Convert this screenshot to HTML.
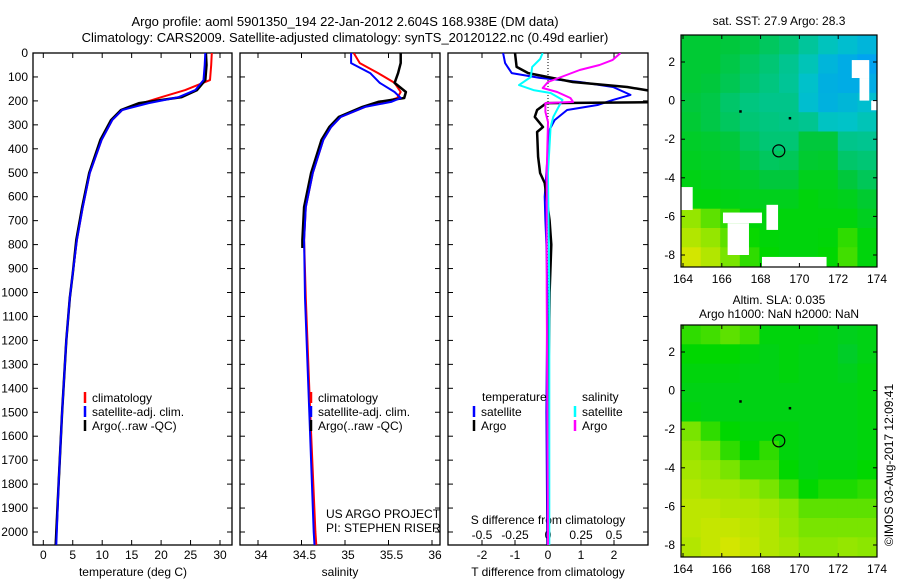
<!DOCTYPE html>
<html><head><meta charset="utf-8">
<style>
html,body{margin:0;padding:0;background:#fff;}
svg{display:block;font-family:"Liberation Sans",sans-serif;}
text{font-size:12px;fill:#000;}
</style></head>
<body>
<svg id="fig" width="900" height="580" viewBox="0 0 900 580" xmlns="http://www.w3.org/2000/svg">
<defs>
<clipPath id="c1"><rect x="33" y="53" width="199" height="492"/></clipPath>
<clipPath id="c2"><rect x="240" y="53" width="200" height="492"/></clipPath>
<clipPath id="c3"><rect x="448" y="53" width="200" height="492"/></clipPath>
<clipPath id="m1"><rect x="681" y="35" width="196" height="232"/></clipPath>
<clipPath id="m2"><rect x="681" y="325" width="196" height="232"/></clipPath>
</defs>
<text x="345" y="26" text-anchor="middle" style="font-size:13px">Argo profile: aoml 5901350_194 22-Jan-2012 2.604S 168.938E (DM data)</text>
<text x="345" y="42" text-anchor="middle" style="font-size:13px">Climatology: CARS2009. Satellite-adjusted climatology: synTS_20120122.nc (0.49d earlier)</text>
<g id="g1"></g>
<g id="g2"></g>
<g id="g3"></g>
<g id="gm1"></g>
<g id="gm2"></g>
<text transform="translate(893,465) rotate(-90)" text-anchor="middle">©IMOS 03-Aug-2017 12:09:41</text>
</svg>
<script>
// ---------- data ----------
const depthTicks = [0,100,200,300,400,500,600,700,800,900,1000,1100,1200,1300,1400,1500,1600,1700,1800,1900,2000];
const tempTicks = [0,5,10,15,20,25,30];
const salTicks = [34,34.5,35,35.5,36];
const salTickLabels = ["34","34.5","35","35.5","36"];
const dTTicks = [-2,-1,0,1,2];
const dSTickLabels = ["-0.5","-0.25","0","0.25","0.5"];
const dSTicks = [-0.5,-0.25,0,0.25,0.5];

const depthT = [0,50,113,155,184,209,238,280,363,501,643,781,919,1023,1200,1500,1800,2000,2054];
const tClim = [28.6,28.5,28.3,24.1,20.1,16.8,13.4,11.7,9.9,7.9,6.7,5.7,5.0,4.5,3.9,3.2,2.6,2.2,2.1];
const tSat  = [27.5,27.4,27.2,25.8,23.0,17.9,13.4,11.7,9.9,7.9,6.7,5.7,5.0,4.5,3.9,3.2,2.6,2.3,2.2];
const tArgo = [27.6,27.7,27.5,26.1,23.5,16.3,13.2,11.5,9.7,7.8,6.6,5.6,5.0,4.5,3.9,3.2,2.6,2.2,2.1];

const depthS = [0,42,84,125,163,188,204,225,267,309,363,501,643,781,1023,1500,2000,2054];
const sClim = [35.10,35.17,35.38,35.57,35.64,35.60,35.46,35.23,34.95,34.84,34.75,34.63,34.55,34.53,34.55,34.60,34.66,34.67];
const sSat  = [35.07,35.07,35.29,35.40,35.57,35.64,35.53,35.23,34.95,34.84,34.75,34.63,34.55,34.53,34.54,34.59,34.64,34.65];
const depthSArgo = [0,42,84,125,163,188,204,225,267,309,363,501,643,781,814];
const sArgo = [35.64,35.64,35.61,35.57,35.70,35.68,35.38,35.20,34.93,34.82,34.73,34.61,34.53,34.51,34.51];

const depthDTSat = [0,42,84,104,121,142,175,196,217,238,280,320,400,500,600,700,800,1000,1500,2054];
const dTSat = [-1.36,-1.3,-1.1,-0.25,0.97,1.97,2.5,1.97,1.5,0.58,0.2,0.05,0,-0.05,-0.1,-0.08,-0.05,-0.02,-0.05,-0.02];
const depthDTArgo = [0,58,84,121,142,167,205,209,238,267,309,330,433,501,543,700,800,1000,1500,2054];
const dTArgo = [-1.0,-0.95,-0.6,0.75,2.4,3.5,3.5,-0.05,-0.33,-0.4,-0.15,-0.33,-0.3,-0.24,-0.1,0.05,0.1,0.05,0,0];
const depthDSSat = [0,25,58,100,134,155,167,196,225,267,309,500,1000,2054];
const dSSat = [-0.04,-0.06,-0.12,-0.13,-0.22,-0.11,0.02,0.11,0.08,0.04,0.02,0,0.01,0.01];
const depthDSArgo = [0,29,50,71,92,121,146,163,188,204,209,246,288,500,1000,2054];
const dSArgo = [0.55,0.49,0.39,0.24,0.14,0,-0.04,0.07,0.17,0.19,-0.02,-0.02,0,-0.01,-0.01,0];

const mapLonTicks = [164,166,168,170,172,174];
const mapLatTicks = [2,0,-2,-4,-6,-8];
const sstGrid = [
[.52,.52,.5,.48,.44,.4,.33,.27,.22,.17],
[.52,.52,.48,.44,.4,.35,.28,.17,.12,.07],
[.52,.5,.46,.42,.38,.34,.24,.14,.12,.12],
[.5,.48,.42,.38,.36,.36,.22,.15,.18,.22],
[.52,.48,.44,.4,.38,.37,.35,.26,.25,.28],
[.55,.53,.5,.44,.4,.4,.5,.5,.36,.35],
[.57,.55,.53,.48,.44,.45,.53,.54,.42,.4],
[.6,.58,.56,.54,.5,.5,.58,.58,.5,.45],
[.62,.62,.6,.58,.58,.58,.62,.6,.58,.53],
[.82,.75,.7,.63,.62,.62,.62,.62,.62,.57],
[.88,.82,.75,.66,.63,.62,.62,.63,.7,.62],
[.95,.88,.78,.7,.65,.62,.62,.65,.72,.62]];
const slaGrid = [
[.7,.72,.75,.72,.62,.62,.62,.6,.58,.6],
[.65,.65,.65,.62,.6,.62,.6,.6,.55,.6],
[.62,.62,.62,.6,.6,.62,.6,.6,.58,.62],
[.6,.6,.6,.6,.6,.6,.6,.6,.6,.62],
[.62,.6,.6,.6,.6,.6,.6,.6,.6,.62],
[.78,.7,.65,.62,.62,.62,.6,.6,.6,.62],
[.82,.78,.7,.65,.7,.62,.6,.6,.6,.62],
[.85,.82,.78,.72,.72,.65,.6,.62,.62,.65],
[.88,.85,.85,.82,.78,.72,.65,.68,.68,.7],
[.9,.9,.88,.88,.85,.8,.75,.75,.75,.75],
[.9,.92,.92,.9,.88,.82,.78,.78,.78,.78],
[.88,.92,.95,.92,.88,.85,.8,.8,.82,.8]];
// NaN masks [lon0,lon1,latTop,latBottom]
const sstMasks = [[163.9,164.5,-4.48,-5.67],[166.06,168.07,-5.8,-6.35],[166.3,167.4,-6.35,-8.0],[168.3,168.9,-5.4,-6.7],[168.07,171.4,-8.1,-8.7],[172.7,173.6,2.1,1.17],[173.1,173.6,1.17,0.0],[173.7,174.1,0.0,-0.5]];
const argoLon = 168.938, argoLat = -2.604;
const islandLon = [166.95,169.5], islandLat = [-0.55,-0.9];

// ---------- helpers ----------
const NS = "http://www.w3.org/2000/svg";
function mk(parent, tag, attrs, txt){
  const e = document.createElementNS(NS, tag);
  for (const k in attrs) e.setAttribute(k, attrs[k]);
  if (txt !== undefined) e.textContent = txt;
  parent.appendChild(e);
  return e;
}
const Y0 = 53, Ys = 0.2395;
const yDepth = d => Y0 + d*Ys;
const xT = v => 43.3 + v*5.89;
const xS = v => 258 + (v-34)*87;
const xDT = v => 548 + v*33;
const xDS = v => 548 + v*132;

function panelFrame(g, x0, x1, ticksX, fx, name){
  const fr = mk(g,'rect',{x:x0,y:53,width:x1-x0,height:492,fill:'none',stroke:'#000','stroke-width':1.3});
  
  
  depthTicks.forEach(d=>{
    const y=yDepth(d);
    mk(g,'line',{x1:x0,x2:x0+5,y1:y,y2:y,stroke:'#000'});
    mk(g,'line',{x1:x1-5,x2:x1,y1:y,y2:y,stroke:'#000'});
  });
  ticksX.forEach(v=>{
    const x=fx(v);
    mk(g,'line',{x1:x,x2:x,y1:53,y2:58,stroke:'#000'});
    mk(g,'line',{x1:x,x2:x,y1:540,y2:545,stroke:'#000'});
  });
}
function profile(g, xs, ds, fx, color, w, clip, name){
  const pts = xs.map((v,i)=>fx(v).toFixed(1)+','+yDepth(ds[i]).toFixed(1)).join(' ');
  const p = mk(g,'polyline',{points:pts,fill:'none',stroke:color,'stroke-width':w,'clip-path':'url(#'+clip+')','stroke-linejoin':'round'});
  
  
}
function legendEntry(g, x, y, color, label, name){
  mk(g,'line',{x1:x,x2:x,y1:y-6,y2:y+5,stroke:color,'stroke-width':2.5});
  const t = mk(g,'text',{x:x+7,y:y+4},label);
  
  
}

// ---------- panel 1 ----------
const g1 = document.getElementById('g1');
panelFrame(g1,33,232,tempTicks,xT,'temperature-panel');
depthTicks.forEach(d=>{
  const t=mk(g1,'text',{x:28,y:yDepth(d)+4,'text-anchor':'end'},String(d));
  
  
});
tempTicks.forEach(v=>{
  const t=mk(g1,'text',{x:xT(v),y:559,'text-anchor':'middle'},String(v));
  
  
});
const xl1=mk(g1,'text',{x:133,y:576,'text-anchor':'middle'},'temperature (deg C)');


profile(g1,tClim,depthT,xT,'#ff0000',2,'c1','temperature-climatology-line');
profile(g1,tArgo,depthT,xT,'#000',2.5,'c1','temperature-argo-line');
profile(g1,tSat,depthT,xT,'#0000ff',2,'c1','temperature-satellite-line');
legendEntry(g1,85,398,'#ff0000','climatology','legend-climatology');
legendEntry(g1,85,412,'#0000ff','satellite-adj. clim.','legend-satellite');
legendEntry(g1,85,426,'#000','Argo(..raw -QC)','legend-argo');

// ---------- panel 2 ----------
const g2 = document.getElementById('g2');
panelFrame(g2,240,440,salTicks,xS,'salinity-panel');
salTicks.forEach((v,i)=>{
  const t=mk(g2,'text',{x:xS(v)+3,y:559,'text-anchor':'middle'},salTickLabels[i]);
  
  
});
const xl2=mk(g2,'text',{x:340,y:576,'text-anchor':'middle'},'salinity');


profile(g2,sClim,depthS,xS,'#ff0000',2,'c2','salinity-climatology-line');
profile(g2,sArgo,depthSArgo,xS,'#000',2.5,'c2','salinity-argo-line');
profile(g2,sSat,depthS,xS,'#0000ff',2,'c2','salinity-satellite-line');
legendEntry(g2,311,398,'#ff0000','climatology','legend-climatology-2');
legendEntry(g2,311,412,'#0000ff','satellite-adj. clim.','legend-satellite-2');
legendEntry(g2,311,426,'#000','Argo(..raw -QC)','legend-argo-2');
const c1=mk(g2,'text',{x:326,y:518},'US ARGO PROJECT');


const c2=mk(g2,'text',{x:326,y:532},'PI: STEPHEN RISER');



// ---------- panel 3 ----------
const g3 = document.getElementById('g3');
panelFrame(g3,448,648,dTTicks,xDT,'difference-panel');
mk(g3,'line',{x1:548,x2:548,y1:53,y2:545,stroke:'#000','stroke-dasharray':'1,2'});
dTTicks.forEach(v=>{
  const t=mk(g3,'text',{x:xDT(v),y:559,'text-anchor':'middle'},String(v));
  
  
});
dSTicks.forEach((v,i)=>{
  const t=mk(g3,'text',{x:xDS(v),y:539,'text-anchor':'middle'},dSTickLabels[i]);
  
  
});
const xl3=mk(g3,'text',{x:548,y:576,'text-anchor':'middle'},'T difference from climatology');


const xl4=mk(g3,'text',{x:548,y:524,'text-anchor':'middle'},'S difference from climatology');


profile(g3,dTSat,depthDTSat,xDT,'#0000ff',2,'c3','t-diff-satellite-line');
profile(g3,dTArgo,depthDTArgo,xDT,'#000',2.5,'c3','t-diff-argo-line');
profile(g3,dSSat,depthDSSat,xDS,'#00ffff',2,'c3','s-diff-satellite-line');
profile(g3,dSArgo,depthDSArgo,xDS,'#ff00ff',2,'c3','s-diff-argo-line');
const lt=mk(g3,'text',{x:482,y:401},'temperature');


const ls=mk(g3,'text',{x:582,y:401},'salinity');


legendEntry(g3,474,412,'#0000ff','satellite','legend-t-satellite');
legendEntry(g3,474,426,'#000','Argo','legend-t-argo');
legendEntry(g3,575,412,'#00ffff','satellite','legend-s-satellite');
legendEntry(g3,575,426,'#ff00ff','Argo','legend-s-argo');

// ---------- maps ----------
const cmapStops = [[0,[0,150,255]],[0.25,[0,195,200]],[0.5,[0,200,60]],[0.65,[0,215,0]],[0.8,[140,230,0]],[1,[235,230,0]]];
function cmap(v){
  for(let i=1;i<cmapStops.length;i++){
    if(v<=cmapStops[i][0]){
      const [a,ca]=cmapStops[i-1],[b,cb]=cmapStops[i];
      const t=(v-a)/(b-a);
      return 'rgb('+ca.map((c,k)=>Math.round(c+(cb[k]-c)*t)).join(',')+')';
    }
  }
  return 'rgb(235,230,0)';
}
function drawMap(g, top, grid, masks, clip, name){
  const xLon = lon => 683 + (lon-164)*19.4;
  const yLat = lat => top + 27 + (2-lat)*19.3;
  const lon0=163.9, lat0=3.4, nc=grid[0].length, nr=grid.length;
  const cw=(174-lon0)/nc, ch=(lat0+8.6)/nr;
  const cells=mk(g,'g',{'clip-path':'url(#'+clip+')'});
  grid.forEach((row,j)=>row.forEach((v,i)=>{
    const x=xLon(lon0+i*cw), y=yLat(lat0-j*ch);
    const r=mk(cells,'rect',{x:x.toFixed(1),y:y.toFixed(1),width:(cw*19.4+0.6).toFixed(1),height:(ch*19.3+0.6).toFixed(1),fill:cmap(v)});
    
    
  }));
  masks.forEach(m=>{
    const r=mk(cells,'rect',{x:xLon(m[0]),y:yLat(m[2]),width:(m[1]-m[0])*19.4,height:(m[2]-m[3])*19.3,fill:'#fff'});
    
    
  });
  islandLon.forEach((lo,i)=>{
    mk(cells,'rect',{x:xLon(lo)-1,y:yLat(islandLat[i])-1,width:2.5,height:2.5,fill:'#000'});
  });
  const circ=mk(g,'circle',{cx:xLon(argoLon),cy:yLat(argoLat),r:6,fill:'none',stroke:'#000','stroke-width':1.2});
  
  
  const fr=mk(g,'rect',{x:681,y:top,width:196,height:232,fill:'none',stroke:'#000','stroke-width':1.2});
  
  
  mapLonTicks.forEach(lo=>{
    const x=xLon(lo);
    mk(g,'line',{x1:x,x2:x,y1:top,y2:top+4,stroke:'#000'});
    mk(g,'line',{x1:x,x2:x,y1:top+228,y2:top+232,stroke:'#000'});
    const t=mk(g,'text',{x:x,y:top+248,'text-anchor':'middle'},String(lo));
    
    
  });
  mapLatTicks.forEach(la=>{
    const y=yLat(la);
    mk(g,'line',{x1:681,x2:685,y1:y,y2:y,stroke:'#000'});
    mk(g,'line',{x1:873,x2:877,y1:y,y2:y,stroke:'#000'});
    const t=mk(g,'text',{x:675,y:y+4,'text-anchor':'end'},String(la));
    
    
  });
}
const gm1=document.getElementById('gm1');
drawMap(gm1,35,sstGrid,sstMasks,'m1','sst-map');
const mt1=mk(gm1,'text',{x:779,y:25,'text-anchor':'middle'},'sat. SST: 27.9 Argo: 28.3');


const gm2=document.getElementById('gm2');
drawMap(gm2,325,slaGrid,[],'m2','sla-map');
const mt2=mk(gm2,'text',{x:779,y:304,'text-anchor':'middle'},'Altim. SLA: 0.035');


const mt3=mk(gm2,'text',{x:779,y:318,'text-anchor':'middle'},'Argo h1000: NaN h2000: NaN');


</script>
</body></html>
